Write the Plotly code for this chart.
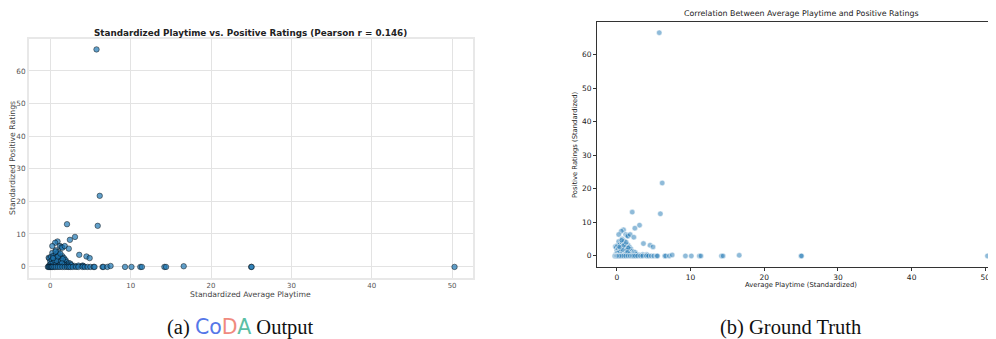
import plotly.graph_objects as go

# ---- data ----
# points above the zero line
playtime_upper = [
    5.75, 6.15, 5.9, 2.08, 3.07, 2.44, 0.9, 0.6, 0.25, 1.2, 1.4, 1.5, 1.8, 2.3, 3.6, 4.5, 4.9,
    -0.2, -0.1, 0.0, 0.1, 0.2, 0.25, 0.3, 0.4, 0.5, 0.6, 0.7, 0.7, 0.8, 0.9, 1.0, 1.05, 1.1, 1.2,
    1.3, 1.4, 1.5, 1.6, 1.7, 1.8, 1.9, 2.0, 2.1, 2.3, 2.5, 2.6, 0.2, 0.4, 0.55, 0.8, 1.15, 1.35,
    0.05, -0.15, 0.35, 0.95, 1.25, 0.65, 1.55, 1.75, 2.2, 3.0, 3.5, 4.0, 4.1, 1.45,
]
ratings_upper = [
    66.6, 21.7, 12.5, 13.0, 9.1, 8.2, 7.7, 7.3, 6.3, 6.3, 6.0, 5.8, 6.3, 5.5, 3.6, 3.1, 2.6,
    2.7, 2.5, 1.5, 3.0, 2.0, 4.2, 1.0, 3.3, 2.4, 1.6, 5.0, 3.8, 2.9, 0.8, 4.4, 2.2, 3.5, 1.3,
    2.8, 0.6, 3.2, 1.9, 2.6, 1.0, 2.0, 1.4, 0.7, 1.1, 0.9, 0.5, 0.5, 1.2, 0.4, 1.8, 0.4, 1.7,
    0.8, 0.3, 2.6, 3.1, 4.0, 4.6, 2.3, 0.5, 0.3, 0.2, 0.3, 0.3, 0.2, 1.0,
]
# points on the zero line
playtime_zero = [
    -0.3, -0.2, -0.1, 0.0, 0.1, 0.2, 0.3, 0.5, 0.7, 0.95, 1.2, 1.5, 1.8, 2.08, 2.3, 2.5, 2.8,
    3.2, 3.5, 4.0, 4.3, 4.65, 5.0, 5.4, 5.5, 6.5, 6.6, 7.1, 7.5, 9.3, 10.1, 11.2, 11.4, 14.2,
    14.4, 16.6, 25.0, 25.05, 50.3,
]
ratings_zero = [
    -0.1, -0.1, -0.1, -0.1, -0.1, -0.1, -0.1, -0.1, -0.1, -0.1, -0.1, -0.1, -0.1, -0.1, -0.1, -0.1, -0.1,
    -0.1, -0.1, -0.1, -0.1, -0.1, -0.1, -0.1, -0.1, -0.1, -0.1, -0.1, 0.2, -0.1, -0.1, -0.1, -0.1, -0.1,
    -0.1, 0.1, -0.1, -0.1, -0.1,
]
playtime = playtime_upper + playtime_zero
ratings = ratings_upper + ratings_zero

x_ticks = [0, 10, 20, 30, 40, 50]
y_ticks = [0, 10, 20, 30, 40, 50, 60]

# the page body has an 8px margin, so the figure is 8px smaller than the window
OFF = 8
W, H = 996 - OFF, 339 - OFF
FONT = "DejaVu Sans"

fig = go.Figure()

# (a) left panel
fig.add_trace(go.Scatter(
    x=playtime, y=ratings, mode="markers", xaxis="x", yaxis="y",
    marker=dict(size=5.5, color="rgba(31,119,180,0.7)",
                line=dict(color="rgba(0,0,0,0.75)", width=0.6)),
    showlegend=False, hoverinfo="skip", cliponaxis=False))

# (b) right panel
fig.add_trace(go.Scatter(
    x=playtime, y=ratings, mode="markers", xaxis="x2", yaxis="y2",
    marker=dict(size=5.5, color="rgba(31,119,180,0.5)",
                line=dict(color="white", width=0.5)),
    showlegend=False, hoverinfo="skip", cliponaxis=False))

def px_x(p):
    return (p - OFF) / W

def px_y(p):
    return 1 - (p - OFF) / H

left_frame = "#e8e8e8"
fig.update_layout(
    width=W, height=H, margin=dict(l=0, r=0, t=0, b=0),
    paper_bgcolor="white", plot_bgcolor="white",
    font=dict(family=FONT),
    xaxis=dict(domain=[px_x(29), px_x(473)], range=[-2.65, 52.6], tickvals=x_ticks,
               showgrid=True, gridcolor="#e3e3e3", gridwidth=1, zeroline=False,
               showline=True, mirror=True, linecolor=left_frame, linewidth=2,
               ticks="", tickfont=dict(size=7, color="#555555"), anchor="y"),
    yaxis=dict(domain=[px_y(278), px_y(39)], range=[-3.5, 69.8], tickvals=y_ticks,
               showgrid=True, gridcolor="#e3e3e3", gridwidth=1, zeroline=False,
               showline=True, mirror=True, linecolor=left_frame, linewidth=2,
               ticks="", tickfont=dict(size=7.3, color="#555555"), anchor="x"),
    xaxis2=dict(domain=[px_x(597), 1.0], range=[-2.7, 51.45], tickvals=x_ticks,
                showgrid=False, zeroline=False, showline=True, mirror=True,
                linecolor="#333333", linewidth=1, ticks="outside", ticklen=3,
                tickcolor="#333333", tickfont=dict(size=7.5, color="#222222"), anchor="y2"),
    yaxis2=dict(domain=[px_y(267), px_y(22)], range=[-3.4, 69.8], tickvals=y_ticks,
                showgrid=False, zeroline=False, showline=True, mirror=False,
                linecolor="#333333", linewidth=1, ticks="outside", ticklen=3,
                tickcolor="#333333", tickfont=dict(size=7.5, color="#222222"), anchor="x2"),
)

annotations = [
    # left titles
    dict(text="<b>Standardized Playtime vs. Positive Ratings (Pearson r = 0.146)</b>",
         x=px_x(250.5), y=px_y(33), font=dict(size=8.8, color="#222222")),
    dict(text="Standardized Average Playtime", x=px_x(250), y=px_y(294),
         font=dict(size=7.7, color="#444444")),
    dict(text="Standardized Positive Ratings", x=px_x(12), y=px_y(158), textangle=-90,
         font=dict(size=7.7, color="#444444")),
    # right titles
    dict(text="Correlation Between Average Playtime and Positive Ratings",
         x=px_x(801), y=px_y(14), font=dict(size=7.9, color="#222222")),
    dict(text="Average Playtime (Standardized)", x=px_x(801), y=px_y(285),
         font=dict(size=6.8, color="#222222")),
    dict(text="Positive Ratings (Standardized)", x=px_x(575), y=px_y(145), textangle=-90,
         font=dict(size=6.8, color="#222222")),
    # captions
    dict(text=("(a) <span style='font-family:DejaVu Sans'>"
               "<span style='color:#5577e8'>Co</span>"
               "<span style='color:#f08a7e'>D</span>"
               "<span style='color:#5cbfa5'>A</span></span> Output"),
         x=px_x(240), y=px_y(327), font=dict(size=20.5, color="#111111", family="Liberation Serif")),
    dict(text="(b) Ground Truth", x=px_x(790), y=px_y(327),
         font=dict(size=20.5, color="#111111", family="Liberation Serif")),
]
for a in annotations:
    a.update(xref="paper", yref="paper", showarrow=False, xanchor="center", yanchor="middle")
fig.update_layout(annotations=annotations)

fig.write_html("out.html")
